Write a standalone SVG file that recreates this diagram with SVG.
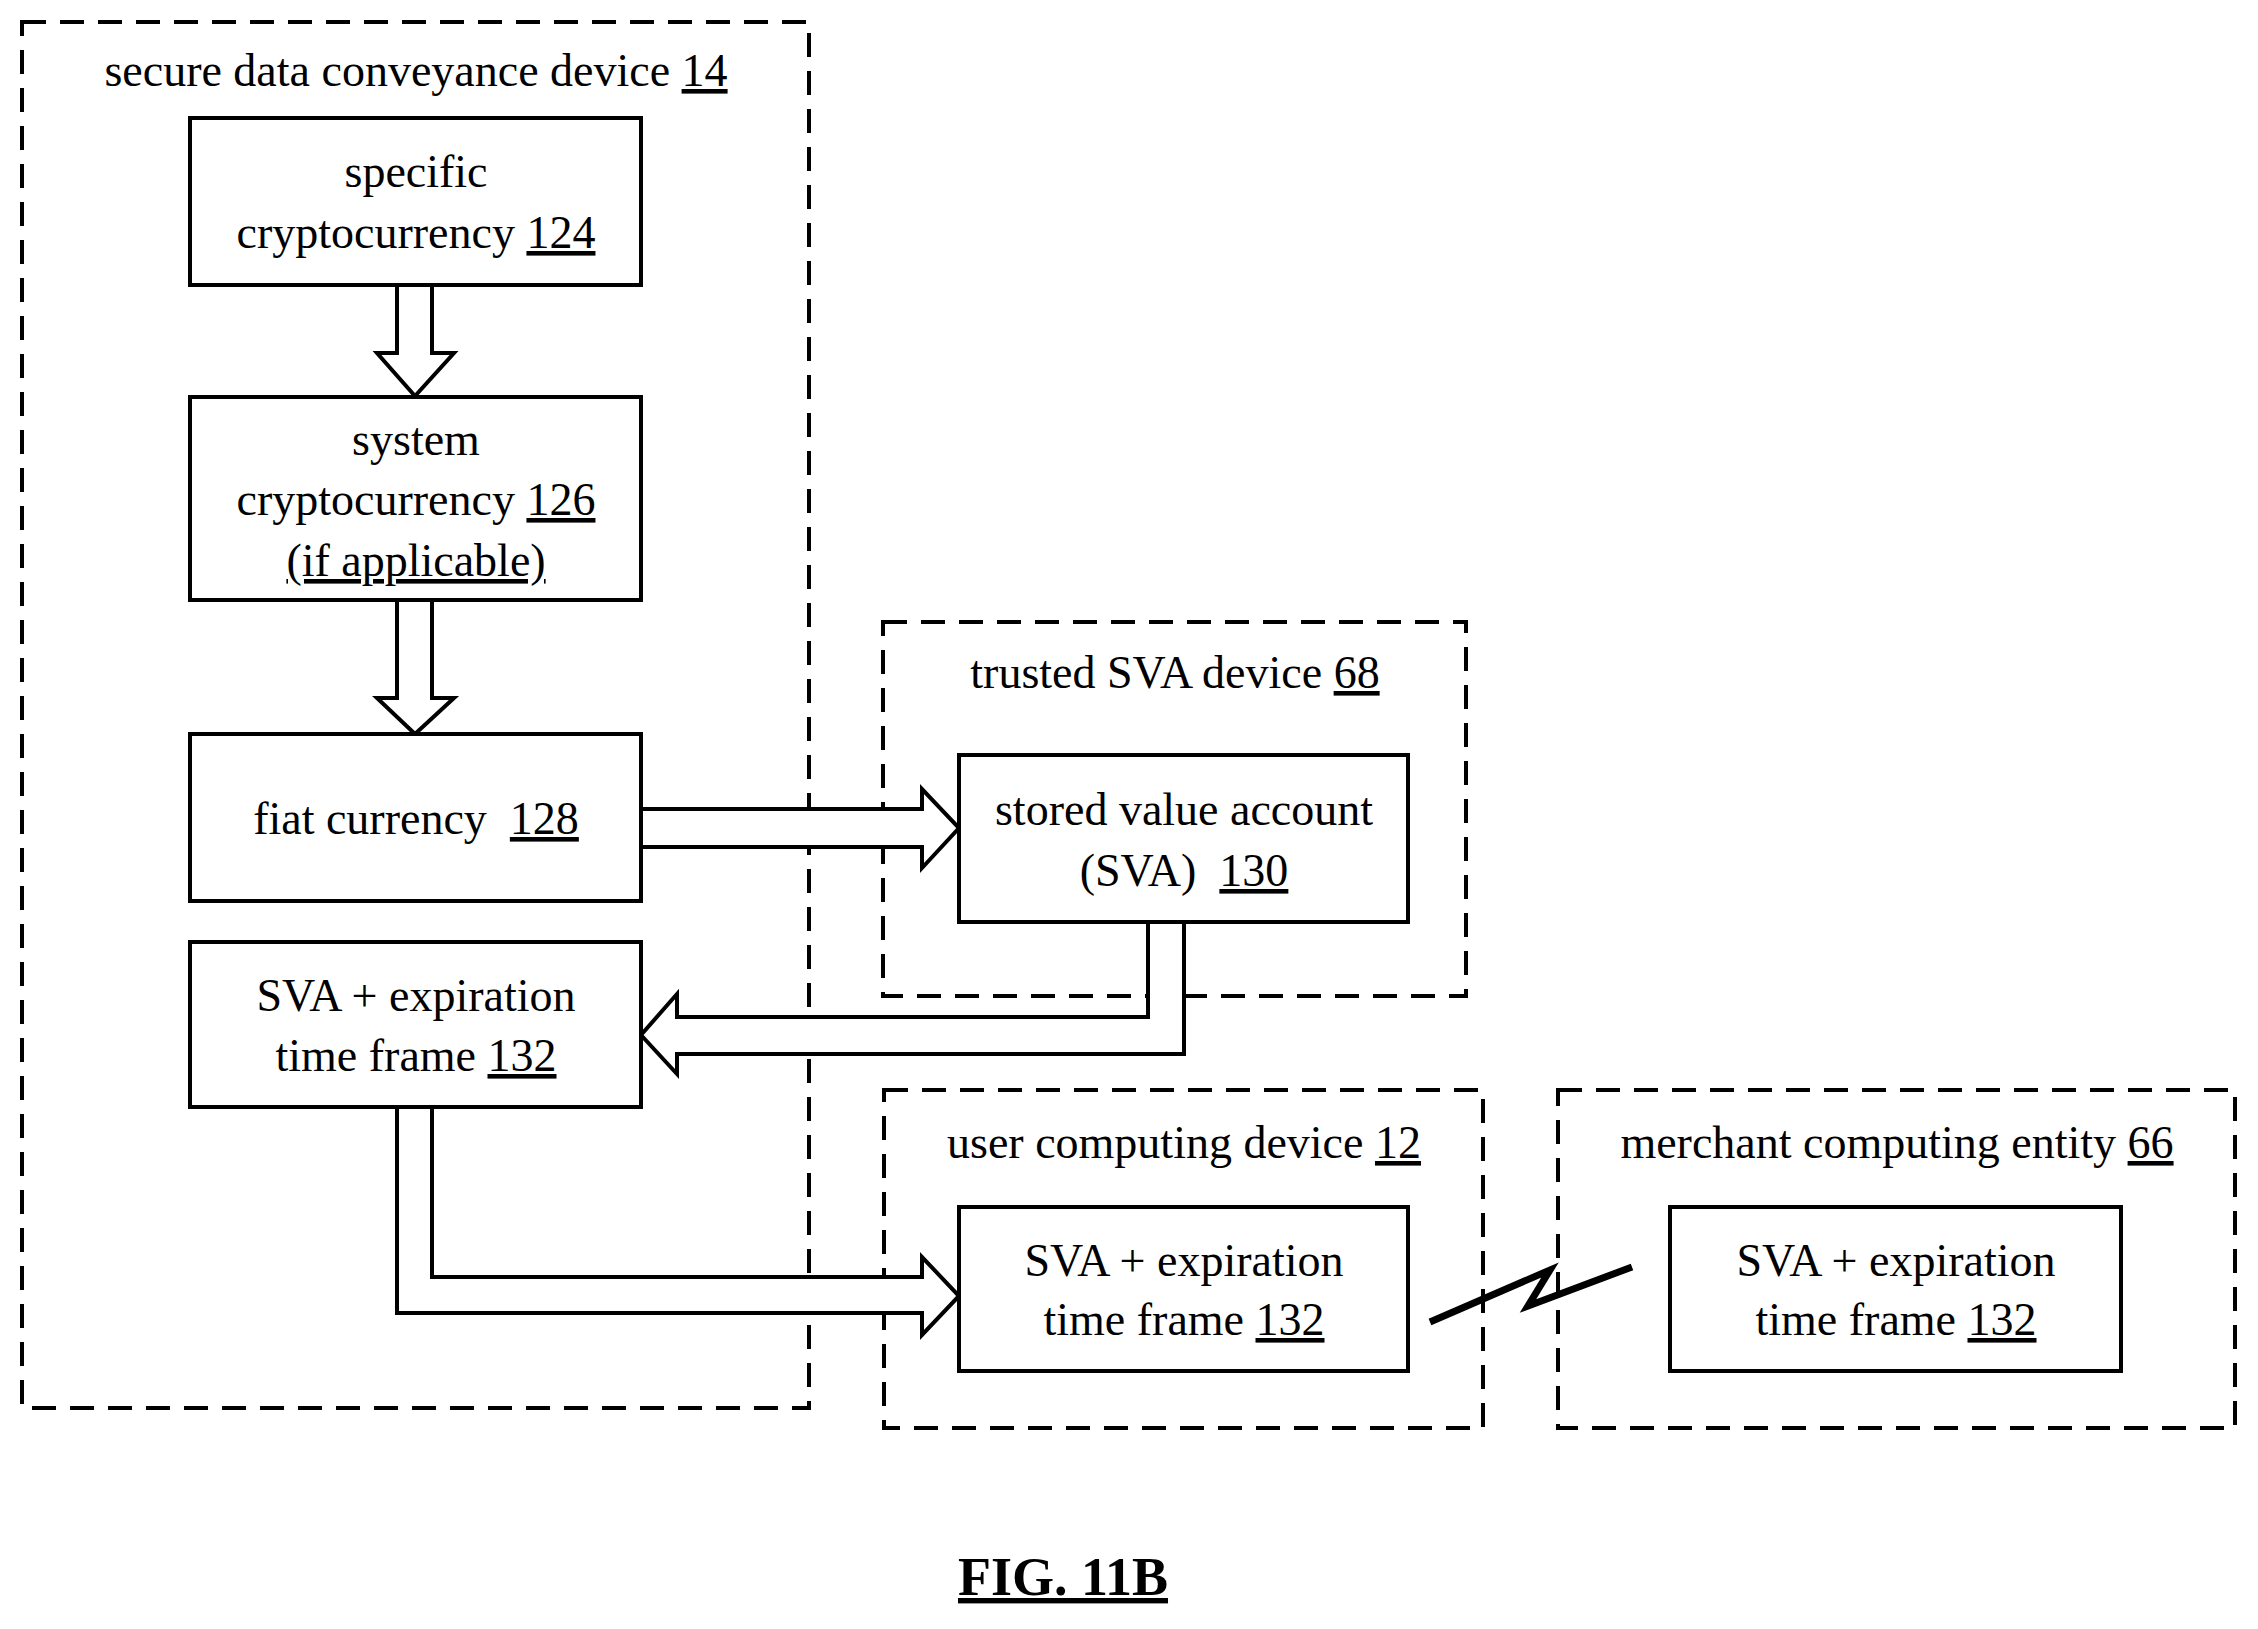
<svg xmlns="http://www.w3.org/2000/svg" width="2258" height="1629" viewBox="0 0 2258 1629">
<style>
text{font-family:"Liberation Serif","Times New Roman",serif;font-size:46px;text-anchor:middle;fill:#000}
.u{text-decoration:underline}
.dash{fill:none;stroke:#000;stroke-width:4;stroke-dasharray:24,14}
.box{fill:#fff;stroke:#000;stroke-width:4}
.ar{fill:#fff;stroke:#000;stroke-width:4;stroke-linejoin:miter}
</style>
<rect width="2258" height="1629" fill="#fff"/>
<g id="sdcd"><rect class="dash" x="22" y="22" width="787" height="1386"/><text x="416" y="86">secure data conveyance device <tspan class="u">14</tspan></text></g>
<g id="trusted"><rect class="dash" x="883" y="622" width="583" height="374"/><text x="1175" y="688">trusted SVA device <tspan class="u">68</tspan></text></g>
<g id="user"><rect class="dash" x="884" y="1090" width="599" height="338"/><text x="1184" y="1158">user computing device <tspan class="u">12</tspan></text></g>
<g id="merchant"><rect class="dash" x="1558" y="1090" width="677" height="338"/><text x="1897" y="1158">merchant computing entity <tspan class="u">66</tspan></text></g>
<g id="connectors">
<path class="ar" d="M397,285 V353 H377 L415,396 L454,353 H432 V285"/>
<path class="ar" d="M397,600 V698 H377 L415,734 L454,698 H432 V600"/>
<path class="ar" d="M641,809 H922 V789 L959,828 L922,868 V847 H641"/>
<path class="ar" d="M1148,922 V1017 H677 V994 L641,1035 L677,1074 V1054 H1184 V922"/>
<path class="ar" d="M397,1107 V1313 H922 V1335 L959,1296 L922,1257 V1277 H432 V1107"/>
<path d="M1430,1322 L1550,1270 L1528,1306 L1632,1267" fill="none" stroke="#000" stroke-width="7" stroke-linejoin="miter"/>
</g>
<g id="n124"><rect class="box" x="190" y="118" width="451" height="167"/><text x="416" y="187">specific</text><text x="416" y="248">cryptocurrency <tspan class="u">124</tspan></text></g>
<g id="n126"><rect class="box" x="190" y="397" width="451" height="203"/><text x="416" y="455">system</text><text x="416" y="515">cryptocurrency <tspan class="u">126</tspan></text><text x="416" y="576" class="u">(if applicable)</text></g>
<g id="n128"><rect class="box" x="190" y="734" width="451" height="167"/><text x="416" y="834" xml:space="preserve">fiat currency  <tspan class="u">128</tspan></text></g>
<g id="n132a"><rect class="box" x="190" y="942" width="451" height="165"/><text x="416" y="1011">SVA + expiration</text><text x="416" y="1071">time frame <tspan class="u">132</tspan></text></g>
<g id="n130"><rect class="box" x="959" y="755" width="449" height="167"/><text x="1184" y="825">stored value account</text><text x="1184" y="886" xml:space="preserve">(SVA)  <tspan class="u">130</tspan></text></g>
<g id="n132b"><rect class="box" x="959" y="1207" width="449" height="164"/><text x="1184" y="1276">SVA + expiration</text><text x="1184" y="1335">time frame <tspan class="u">132</tspan></text></g>
<g id="n132c"><rect class="box" x="1670" y="1207" width="451" height="164"/><text x="1896" y="1276">SVA + expiration</text><text x="1896" y="1335">time frame <tspan class="u">132</tspan></text></g>
<text x="1063" y="1595" style="font-size:54px;font-weight:bold" class="u">FIG. 11B</text>
</svg>
